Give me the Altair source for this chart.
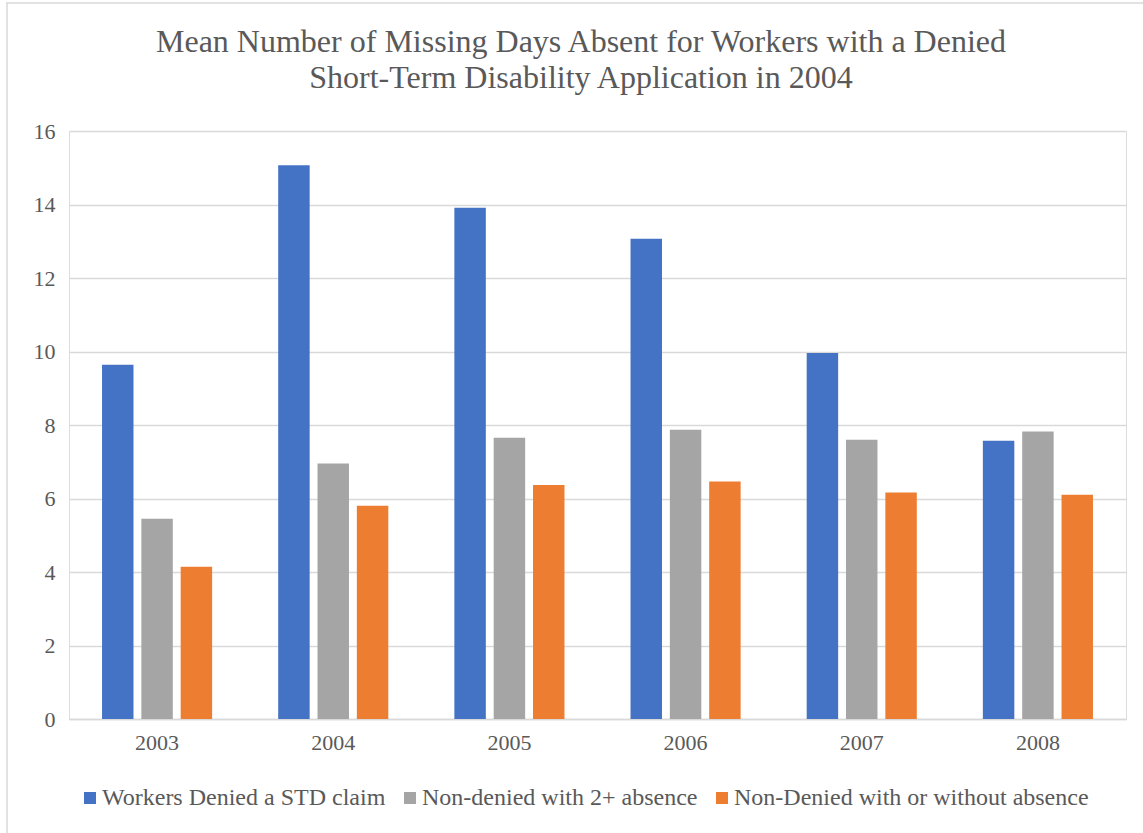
import altair as alt
import pandas as pd

years = ["2003", "2004", "2005", "2006", "2007", "2008"]
series = [
    "Workers Denied a STD claim",
    "Non-denied with 2+ absence",
    "Non-Denied with or without absence",
]
denied = [9.64, 15.07, 13.91, 13.07, 9.96, 7.57]
nondenied_2plus = [5.45, 6.95, 7.65, 7.87, 7.60, 7.82]
nondenied_any = [4.14, 5.80, 6.37, 6.46, 6.16, 6.10]
colors = ["#4472C4", "#A5A5A5", "#ED7D31"]
y_ticks = [0, 2, 4, 6, 8, 10, 12, 14, 16]
title_lines = [
    "Mean Number of Missing Days Absent for Workers with a Denied",
    "Short-Term Disability Application in 2004",
]

rows = []
for s, vals in zip(series, [denied, nondenied_2plus, nondenied_any]):
    for yr, v in zip(years, vals):
        rows.append({"year": yr, "series": s, "value": v})
df = pd.DataFrame(rows)

font = "Liberation Serif, Times New Roman, serif"
txt = "#595959"
grid = "#d9d9d9"
W, H = 1057, 588

bars = alt.Chart(df).mark_bar().encode(
    x=alt.X(
        "year:N", sort=years, title=None,
        scale=alt.Scale(paddingInner=0.375, paddingOuter=0.1875),
        axis=alt.Axis(labelAngle=0, ticks=False, domainColor=grid, domainWidth=1.3,
                      labelFontSize=22, labelColor=txt, labelFont=font, labelPadding=13),
    ),
    xOffset=alt.XOffset("series:N", sort=series,
                        scale=alt.Scale(paddingInner=0.2, paddingOuter=0)),
    y=alt.Y(
        "value:Q", title=None, scale=alt.Scale(domain=[0, 16], nice=False),
        axis=alt.Axis(values=y_ticks, domain=False, ticks=False, gridColor=grid,
                      gridWidth=1.3, labelFontSize=22, labelColor=txt, labelFont=font,
                      labelPadding=14),
    ),
    color=alt.Color(
        "series:N", sort=series,
        scale=alt.Scale(domain=series, range=colors),
        legend=alt.Legend(title=None, orient="none", legendX=9, legendY=655,
                          direction="horizontal", columns=3, symbolType="square",
                          symbolSize=144, symbolStrokeWidth=0, labelFont=font,
                          labelFontSize=24, labelColor=txt, columnPadding=12,
                          labelOffset=0, labelLimit=500),
    ),
)

border = alt.Chart(pd.DataFrame({"a": [0]})).mark_rect(
    fillOpacity=0, stroke=grid, strokeWidth=1.5
).encode(
    x=alt.value(-62), x2=alt.value(1143), y=alt.value(-128), y2=alt.value(800)
)

title = alt.Chart(pd.DataFrame({"a": [0]})).mark_text(
    text=title_lines, font=font, fontSize=32, color=txt, align="center",
    baseline="top", lineHeight=35.5
).encode(x=alt.value(512), y=alt.value(-104))

chart = alt.layer(border, bars, title).properties(
    width=W, height=H,
    autosize=alt.AutoSizeParams(type="none"),
    padding={"left": 69, "top": 131, "right": 17, "bottom": 114},
).configure_view(stroke=None).configure(background="white")

chart.save("out.html", embed_options={"renderer": "svg", "actions": False})
